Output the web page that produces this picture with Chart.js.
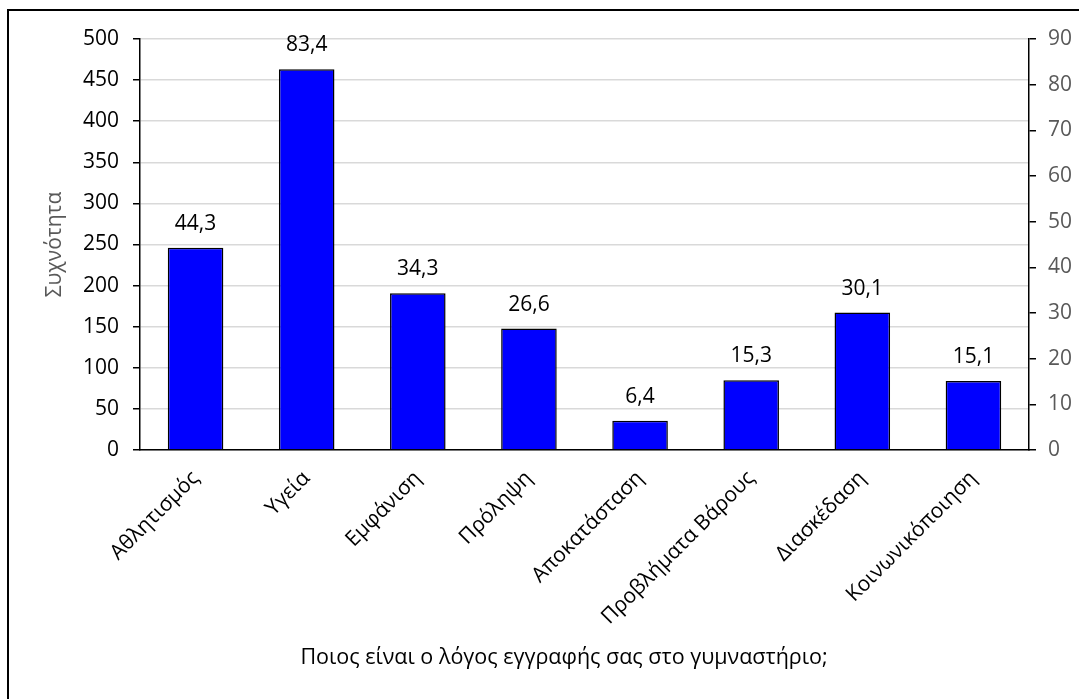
<!DOCTYPE html>
<html>
<head>
<meta charset="utf-8">
<script src="https://cdn.jsdelivr.net/npm/chart.js@4.4.1/dist/chart.umd.min.js"></script>
<style>
  html, body { margin: 0; padding: 0; background: #fff; }
  #wrap { width: 1079px; height: 699px; position: relative; }
</style>
</head>
<body>
<div id="wrap"><canvas id="reasonChart" width="1079" height="699"></canvas></div>
<script>
// reasons for joining the gym, share of respondents (%)
const categories = ["Αθλητισμός", "Υγεία", "Εμφάνιση", "Πρόληψη", "Αποκατάσταση", "Προβλήματα Βάρους", "Διασκέδαση", "Κοινωνικόποιηση"];
const percentages = [44.3, 83.4, 34.3, 26.6, 6.4, 15.3, 30.1, 15.1];

// axis ranges
const freqTicks = { min: 0, max: 500, step: 50 };
const pctTicks = { min: 0, max: 90, step: 10 };

const FONT = "'Open Sans', 'Noto Sans', sans-serif";

// value labels above each bar, decimal comma
const barLabels = {
  id: 'barLabels',
  afterDatasetsDraw(chart){
    const ctx = chart.ctx;
    const meta = chart.getDatasetMeta(0);
    ctx.save();
    ctx.font = "21px " + FONT;
    ctx.fillStyle = "#000";
    ctx.textAlign = "center";
    ctx.textBaseline = "middle";
    meta.data.forEach((bar, i) => {
      const txt = percentages[i].toFixed(1).replace(".", ",");
      ctx.fillText(txt, bar.x, bar.y - 24);
    });
    ctx.restore();
  }
};

// frame line and bottom caption
const frame = {
  id: 'frame',
  beforeDraw(chart){
    const ctx = chart.ctx;
    ctx.save();
    ctx.fillStyle = "#fff";
    ctx.fillRect(0, 0, chart.width, chart.height);
    ctx.strokeStyle = "#000";
    ctx.lineWidth = 2;
    ctx.strokeRect(8, 10, chart.width + 20, chart.height + 20);
    ctx.restore();
  },
  afterDraw(chart){
    const ctx = chart.ctx;
    ctx.save();
    ctx.font = "21.5px " + FONT;
    ctx.fillStyle = "#000";
    ctx.textAlign = "center";
    ctx.textBaseline = "middle";
    ctx.fillText("Ποιος είναι ο λόγος εγγραφής σας στο γυμναστήριο;", 564, 658);
    ctx.restore();
  }
};

new Chart(document.getElementById("reasonChart"), {
  type: 'bar',
  data: {
    labels: categories,
    datasets: [{
      data: percentages,
      yAxisID: 'y1',
      backgroundColor: '#0000ff',
      borderColor: '#000',
      borderWidth: 1.5,
      categoryPercentage: 1,
      barPercentage: 0.5
    }]
  },
  options: {
    responsive: false,
    animation: false,
    layout: { padding: { top: 39, left: 0, right: 0, bottom: 0 } },
    plugins: { legend: { display: false }, tooltip: { enabled: false } },
    scales: {
      x: {
        grid: { display: false },
        border: { display: true, color: '#000', width: 1.5 },
        ticks: {
          color: '#000',
          font: { family: FONT, size: 21 },
          maxRotation: 45,
          minRotation: 45,
          padding: 8
        },
        afterFit(scale){ scale.height = 249; }
      },
      y: {
        position: 'left',
        min: freqTicks.min,
        max: freqTicks.max,
        ticks: {
          stepSize: freqTicks.step,
          color: '#000',
          font: { family: FONT, size: 21 },
          padding: 14
        },
        grid: { color: '#d9d9d9', lineWidth: 1.5, tickColor: '#000', tickLength: 7 },
        border: { display: true, color: '#000', width: 1.5 },
        title: {
          display: true,
          text: 'Συχνότητα',
          color: '#595959',
          font: { family: FONT, size: 21 },
          padding: { top: 42, bottom: 0 }
        },
        afterFit(scale){ scale.width = 140; }
      },
      y1: {
        position: 'right',
        min: pctTicks.min,
        max: pctTicks.max,
        ticks: {
          stepSize: pctTicks.step,
          color: '#595959',
          font: { family: FONT, size: 21 },
          padding: 12
        },
        grid: { drawOnChartArea: false, tickColor: '#000', tickLength: 7, lineWidth: 1.5 },
        border: { display: true, color: '#000', width: 1.5 },
        afterFit(scale){ scale.width = 50; }
      }
    }
  },
  plugins: [frame, barLabels]
});
</script>
</body>
</html>
